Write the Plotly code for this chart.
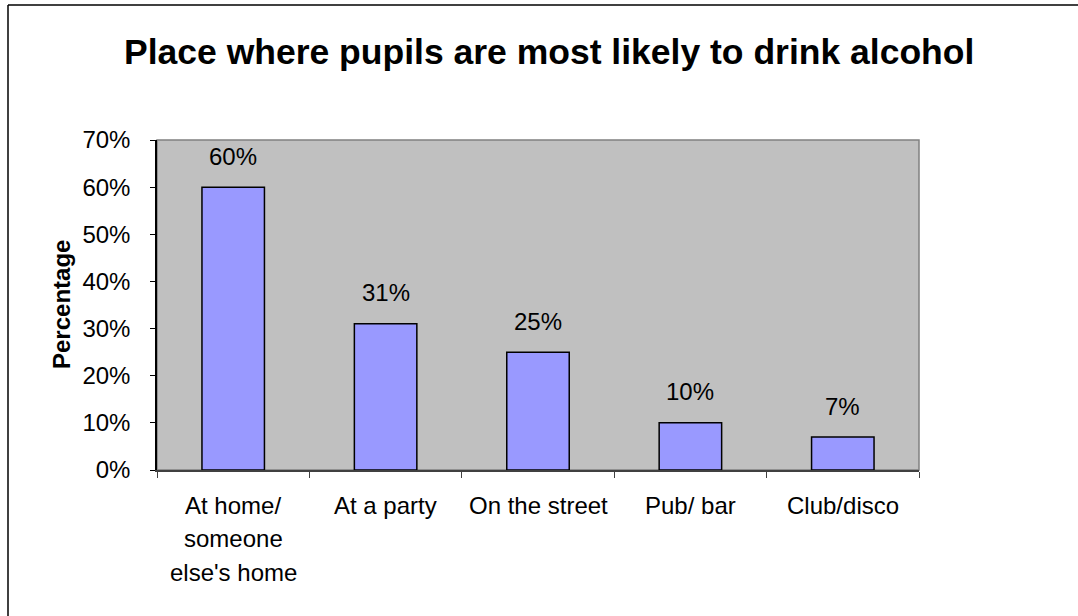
import plotly.graph_objects as go

# Survey results: where pupils most often drink alcohol
categories = ["At home/\nsomeone\nelse's home", "At a party", "On the street", "Pub/ bar", "Club/disco"]
percentages = [60, 31, 25, 10, 7]
y_ticks = [0, 10, 20, 30, 40, 50, 60, 70]
title_text = "Place where pupils are most likely to drink alcohol"
y_title = "Percentage"

W, H = 1078, 616
L, R, T, B = 157, 159, 140, 146
PW, PH = W - L - R, H - T - B
FONT = "Arial, Liberation Sans, sans-serif"
TXT = 24

xs = list(range(len(categories)))

fig = go.Figure(go.Bar(
    x=xs, y=percentages, width=0.41,
    marker=dict(color="#9999FF", line=dict(color="#000000", width=1.5)),
    hoverinfo="skip",
))

annotations = []
# value labels above each bar
for x, v in zip(xs, percentages):
    annotations.append(dict(x=x, y=v, xref="x", yref="y", text=f"{v}%", showarrow=False,
                            yanchor="middle", yshift=31, font=dict(size=TXT, color="#000")))
# category labels, one line at a time for wider line spacing
for x, cat in zip(xs, categories):
    for i, line in enumerate(cat.split("\n")):
        annotations.append(dict(x=x, y=0, xref="x", yref="paper", text=line, showarrow=False,
                                yanchor="middle", yshift=-35 - 33.5 * i, font=dict(size=TXT, color="#000")))
# y-axis title
annotations.append(dict(x=(61 - L) / PW, y=0.5, xref="paper", yref="paper", text=f"<b>{y_title}</b>",
                        textangle=-90, showarrow=False, xanchor="center", yanchor="middle",
                        font=dict(size=24, color="#000")))
# chart title
annotations.append(dict(x=(549 - L) / PW, y=1 + (T - 52) / PH, xref="paper", yref="paper",
                        text=f"<b>{title_text}</b>", showarrow=False, xanchor="center", yanchor="middle",
                        font=dict(size=35.5, color="#000")))

frame_x = (8 - L) / PW
frame_top = 1 + (T - 5) / PH
shapes = [
    # outer chart frame: top and left edges
    dict(type="line", xref="paper", yref="paper", layer="below",
         x0=frame_x, x1=(W - L) / PW, y0=frame_top, y1=frame_top, line=dict(color="#000", width=1.5)),
    dict(type="line", xref="paper", yref="paper", layer="below",
         x0=frame_x, x1=frame_x, y0=frame_top, y1=-(H - T - PH) / PH, line=dict(color="#000", width=1.5)),
    # plot area border
    dict(type="rect", xref="paper", yref="paper", layer="below", x0=0, x1=1, y0=0, y1=1,
         line=dict(color="#808080", width=1.5), fillcolor="rgba(0,0,0,0)"),
]

fig.update_layout(
    width=W, height=H,
    margin=dict(l=L, r=R, t=T, b=B, pad=0),
    paper_bgcolor="white", plot_bgcolor="#C0C0C0",
    font=dict(family=FONT, size=TXT, color="#000"),
    showlegend=False,
    annotations=annotations,
    shapes=shapes,
    xaxis=dict(range=[-0.5, len(categories) - 0.5], tickvals=[i - 0.5 for i in range(len(categories) + 1)],
               showticklabels=False, ticks="outside", ticklen=6, tickcolor="#404040", tickwidth=1,
               showline=True, linecolor="#404040", linewidth=1.5, showgrid=False, zeroline=False,
               fixedrange=True),
    yaxis=dict(range=[0, 70], tickvals=y_ticks, ticktext=[f"{t}%" for t in y_ticks],
               ticks="outside", ticklen=5, tickcolor="#000", tickwidth=1, ticklabelstandoff=15,
               showline=True, linecolor="#000", linewidth=1.5, showgrid=False, zeroline=False,
               tickfont=dict(size=TXT), fixedrange=True),
)

fig.write_html("out.html")
